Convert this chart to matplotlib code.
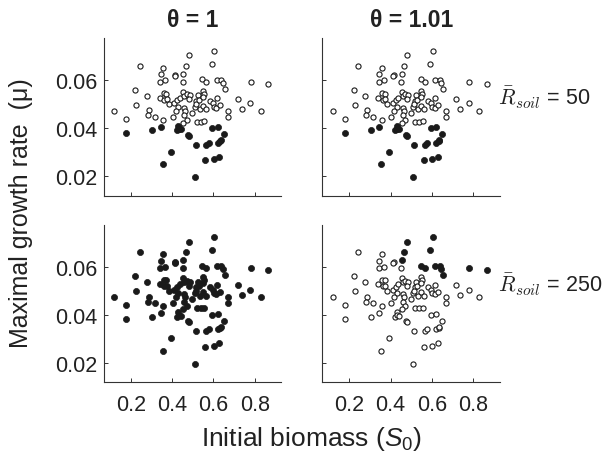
import matplotlib
matplotlib.use("Agg")
import matplotlib.pyplot as plt
import matplotlib.transforms as mtransforms

plt.rcParams['font.family'] = ['Liberation Sans', 'DejaVu Sans']
plt.rcParams['mathtext.fontset'] = 'custom'
plt.rcParams['mathtext.it'] = 'Liberation Sans:italic'
plt.rcParams['mathtext.rm'] = 'Liberation Sans'

# initial biomass S0 and maximal growth rate mu for every run
s0 = [0.119, 0.177, 0.221, 0.226, 0.242, 0.278, 0.286, 0.282, 0.315, 0.339,
      0.342, 0.344, 0.358, 0.368, 0.360, 0.371, 0.362, 0.375, 0.383, 0.357,
      0.404, 0.410, 0.415, 0.413, 0.426, 0.430, 0.417, 0.436, 0.454, 0.452,
      0.467, 0.480, 0.455, 0.459, 0.472, 0.485, 0.480, 0.459, 0.464, 0.460,
      0.472, 0.455, 0.498, 0.509, 0.517, 0.515, 0.525, 0.528, 0.533, 0.520,
      0.538, 0.557, 0.546, 0.566, 0.549, 0.553, 0.549, 0.549, 0.564, 0.591,
      0.604, 0.582, 0.598, 0.601, 0.617, 0.614, 0.630, 0.617, 0.638, 0.645,
      0.654, 0.669, 0.671, 0.719, 0.737, 0.778, 0.782, 0.829, 0.867,
      0.177, 0.305, 0.344, 0.355, 0.394, 0.423, 0.430, 0.433, 0.443, 0.477,
      0.480, 0.514, 0.511, 0.561, 0.566, 0.577, 0.595, 0.621, 0.621, 0.634,
      0.637, 0.650, 0.601, 0.629]
mu = [0.0474, 0.0440, 0.0560, 0.0499, 0.0660, 0.0535, 0.0475, 0.0454, 0.0449, 0.0528,
      0.0593, 0.0625, 0.0653, 0.0600, 0.0546, 0.0543, 0.0518, 0.0521, 0.0500, 0.0435,
      0.0449, 0.0504, 0.0621, 0.0617, 0.0517, 0.0490, 0.0472, 0.0528, 0.0626, 0.0593,
      0.0660, 0.0704, 0.0551, 0.0535, 0.0542, 0.0538, 0.0521, 0.0486, 0.0472, 0.0454,
      0.0435, 0.0424, 0.0465, 0.0490, 0.0514, 0.0500, 0.0538, 0.0518, 0.0479, 0.0426,
      0.0428, 0.0429, 0.0604, 0.0593, 0.0556, 0.0544, 0.0531, 0.0493, 0.0479, 0.0669,
      0.0724, 0.0514, 0.0504, 0.0490, 0.0525, 0.0486, 0.0496, 0.0601, 0.0601, 0.0590,
      0.0565, 0.0472, 0.0447, 0.0524, 0.0483, 0.0504, 0.0594, 0.0472, 0.0586,
      0.0382, 0.0392, 0.0406, 0.0250, 0.0304, 0.0392, 0.0410, 0.0399, 0.0396, 0.0374,
      0.0369, 0.0333, 0.0197, 0.0267, 0.0333, 0.0340, 0.0401, 0.0404, 0.0340, 0.0346,
      0.0350, 0.0376, 0.0271, 0.0281]

# 1 = filled marker, 0 = open marker, one list per panel
fill_50_t1 = [0] * 79 + [1] * 24
fill_50_t101 = [0] * 79 + [1] * 24
fill_250_t1 = [1] * 103
fill_250_t101 = [0, 0, 0, 0, 0, 0, 0, 0, 0, 0,
                 0, 0, 0, 0, 0, 0, 0, 0, 0, 0,
                 0, 0, 0, 0, 0, 0, 0, 0, 1, 0,
                 1, 1, 0, 0, 0, 0, 0, 0, 0, 0,
                 0, 0, 0, 0, 0, 0, 0, 0, 0, 0,
                 0, 0, 1, 1, 0, 0, 0, 0, 0, 1,
                 1, 0, 0, 0, 0, 0, 0, 1, 1, 1,
                 1, 0, 0, 0, 0, 0, 1, 0, 1] + [0] * 24

col_titles = [r'θ = 1', r'θ = 1.01']
row_labels = [r'$\bar{R}_{soil}$ = 50', r'$\bar{R}_{soil}$ = 250']
panels = [[fill_50_t1, fill_50_t101], [fill_250_t1, fill_250_t101]]

fig = plt.figure(figsize=(6.14, 4.6), dpi=100)
lefts = [0.1694, 0.5252]
bottoms = [0.5724, 0.1674]
w, h = 0.289, 0.342
ink = '#1a1a1a'

for r in range(2):
    for c in range(2):
        ax = fig.add_axes([lefts[c], bottoms[r], w, h])
        flags = panels[r][c]
        xo = [x for x, f in zip(s0, flags) if f == 0]
        yo = [y for y, f in zip(mu, flags) if f == 0]
        xf = [x for x, f in zip(s0, flags) if f == 1]
        yf = [y for y, f in zip(mu, flags) if f == 1]
        ax.plot(xo, yo, 'o', ms=3.7, mfc='white', mec=ink, mew=0.8, ls='none')
        ax.plot(xf, yf, 'o', ms=4.4, mfc=ink, mec=ink, mew=0.5, ls='none')
        ax.set_xlim(0.07, 0.93)
        ax.set_ylim(0.012, 0.0775)
        ax.set_xticks([0.2, 0.4, 0.6, 0.8])
        ax.set_yticks([0.02, 0.04, 0.06])
        for side in ['top', 'right']:
            ax.spines[side].set_visible(False)
        for side in ['left', 'bottom']:
            ax.spines[side].set_color('#333333')
            ax.spines[side].set_linewidth(0.8)
        ax.tick_params(direction='in', length=3, width=0.7, color='#333333',
                       labelsize=15.5, labelcolor='#222222')
        ax.tick_params(axis='x', pad=9)
        ax.tick_params(axis='y', pad=5)
        if r == 0:
            ax.set_xticklabels([])
            ax.set_title(col_titles[c], fontsize=16.5, fontweight='bold', pad=9, color='#222222')
        else:
            ax.set_xticklabels(['0.2', '0.4', '0.6', '0.8'])
        if c == 0:
            ax.set_yticklabels(['0.02', '0.04', '0.06'])
        else:
            ax.set_yticklabels([])
            trans = mtransforms.blended_transform_factory(ax.transAxes, ax.transData)
            ax.text(0.99, 0.053, row_labels[r], transform=trans, fontsize=15.5,
                    va='center', ha='left', math_fontfamily='cm', color='#222222')

fig.text(0.034, 0.536, 'Maximal growth rate  (μ)', rotation=90, fontsize=18,
         ha='center', va='center', color='#222222')
fig.text(0.508, 0.045, r'Initial biomass ($\mathit{S}_{\mathit{0}}$)', fontsize=19,
         ha='center', va='center', color='#222222')

fig.savefig('out.png', dpi=100)
